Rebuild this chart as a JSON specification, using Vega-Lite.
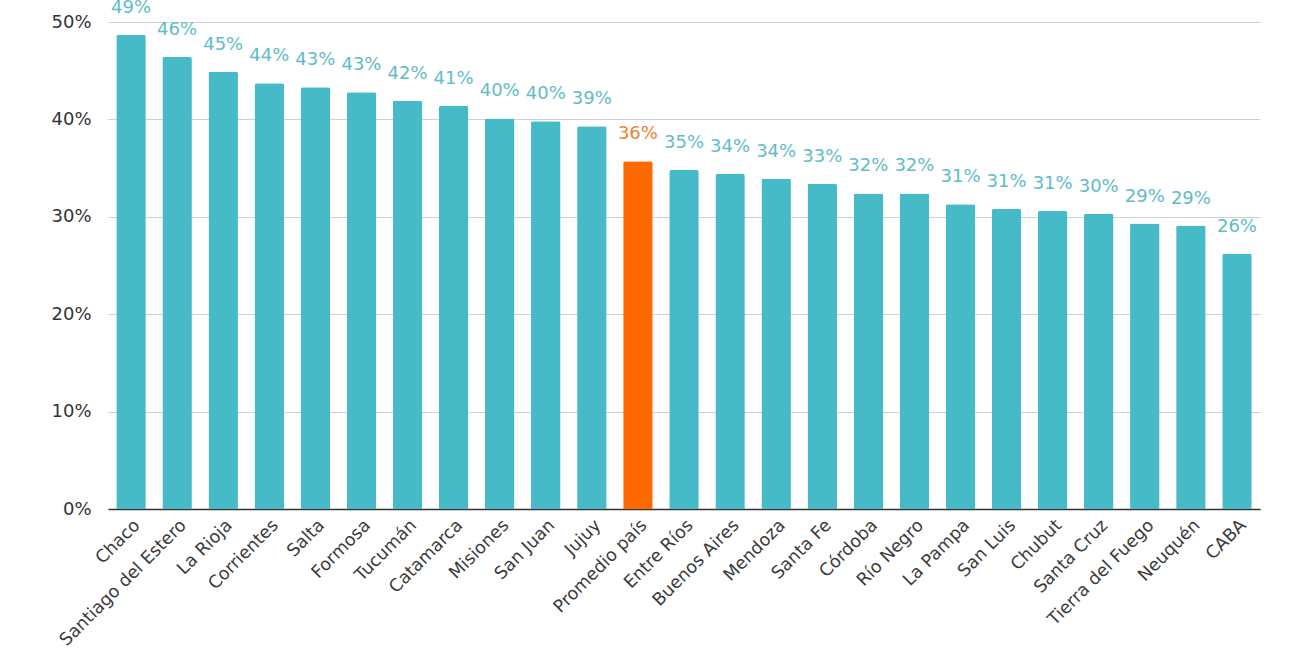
{
  "$schema": "https://vega.github.io/schema/vega-lite/v6.json",
  "autosize": "none",
  "width": 1152,
  "height": 487,
  "padding": {"left": 108, "top": 22, "right": 40, "bottom": 146},
  "background": "white",
  "config": {
    "view": {"stroke": null},
    "font": "DejaVu Sans"
  },
  "data": {
    "values": [
      {"provincia": "Chaco", "valor": 0.487},
      {"provincia": "Santiago del Estero", "valor": 0.464},
      {"provincia": "La Rioja", "valor": 0.449},
      {"provincia": "Corrientes", "valor": 0.437},
      {"provincia": "Salta", "valor": 0.433},
      {"provincia": "Formosa", "valor": 0.428},
      {"provincia": "Tucumán", "valor": 0.419},
      {"provincia": "Catamarca", "valor": 0.414},
      {"provincia": "Misiones", "valor": 0.401},
      {"provincia": "San Juan", "valor": 0.398},
      {"provincia": "Jujuy", "valor": 0.393},
      {"provincia": "Promedio país", "valor": 0.357},
      {"provincia": "Entre Ríos", "valor": 0.348},
      {"provincia": "Buenos Aires", "valor": 0.344},
      {"provincia": "Mendoza", "valor": 0.339},
      {"provincia": "Santa Fe", "valor": 0.334},
      {"provincia": "Córdoba", "valor": 0.324},
      {"provincia": "Río Negro", "valor": 0.324},
      {"provincia": "La Pampa", "valor": 0.313},
      {"provincia": "San Luis", "valor": 0.308},
      {"provincia": "Chubut", "valor": 0.306},
      {"provincia": "Santa Cruz", "valor": 0.303},
      {"provincia": "Tierra del Fuego", "valor": 0.293},
      {"provincia": "Neuquén", "valor": 0.291},
      {"provincia": "CABA", "valor": 0.262}
    ]
  },
  "encoding": {
    "x": {
      "field": "provincia",
      "type": "nominal",
      "sort": null,
      "title": null,
      "scale": {"paddingInner": 0.36, "paddingOuter": 0.18},
      "axis": {
        "labelAngle": -45,
        "labelFontSize": 17.5,
        "labelColor": "#3a3a3a",
        "labelPadding": 7,
        "ticks": false,
        "domainColor": "#333333",
        "domainWidth": 1.5,
        "grid": false
      }
    },
    "y": {
      "field": "valor",
      "type": "quantitative",
      "title": null,
      "scale": {"domain": [0, 0.5]},
      "axis": {
        "format": ".0%",
        "values": [0, 0.1, 0.2, 0.3, 0.4, 0.5],
        "labelOverlap": false,
        "labelFontSize": 18,
        "labelColor": "#333333",
        "labelPadding": 17,
        "ticks": false,
        "domain": false,
        "gridColor": "#d0d0d0",
        "gridWidth": 1
      }
    }
  },
  "layer": [
    {
      "mark": {"type": "bar", "cornerRadiusTopLeft": 2, "cornerRadiusTopRight": 2},
      "encoding": {
        "color": {
          "condition": {"test": "datum.provincia === 'Promedio país'", "value": "#ff6a00"},
          "value": "#46bac6"
        }
      }
    },
    {
      "mark": {"type": "text", "baseline": "bottom", "dy": -18, "fontSize": 18},
      "encoding": {
        "text": {"field": "valor", "type": "quantitative", "format": ".0%"},
        "color": {
          "condition": {"test": "datum.provincia === 'Promedio país'", "value": "#ec8434"},
          "value": "#62bcc7"
        }
      }
    }
  ]
}
